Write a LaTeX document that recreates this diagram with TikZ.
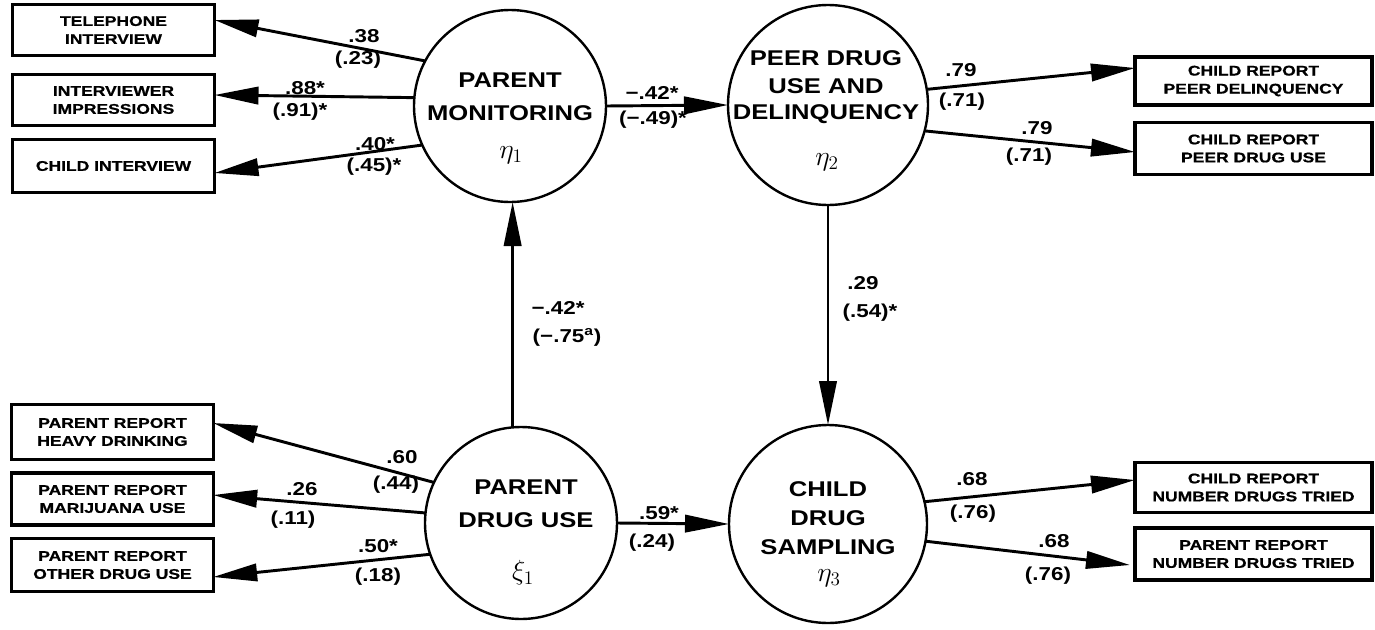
\documentclass[tikz,border=0pt]{standalone}
\usepackage{fontspec}
\setmainfont{Liberation Sans}
\newfontfamily\boxfont{Liberation Sans}[FakeStretch=1.25,FakeBold=0.8]
\newfontfamily\cfont{Liberation Sans}[FakeStretch=1.2]
\newfontfamily\lfont{Liberation Sans}[FakeStretch=1.2]
\usetikzlibrary{arrows.meta,calc}
\tikzset{
  every node/.style={inner sep=0pt, outer sep=0pt},
  mbox/.style={draw, line width=2.4pt, rectangle, align=center,
    font=\boxfont\bfseries\fontsize{10.5}{13.5}\selectfont},
  latent/.style={draw, circle, line width=1.8pt},
  ctext/.style={font=\cfont\bfseries\fontsize{16}{19}\selectfont},
  coef/.style={font=\lfont\bfseries\fontsize{14}{16}\selectfont},
  greek/.style={font=\fontsize{20}{20}\selectfont},
  arr/.style={line width=2.2pt, -{Triangle[length=33pt,width=13pt]}},
}
\begin{document}
\begin{tikzpicture}[x=0.75pt,y=-0.75pt]
\useasboundingbox (0,0) rectangle (1375,629);
% latent variables
\node[latent, minimum size=144pt] (pm) at (510,106) {};
\node[latent, minimum size=150pt] (peer) at (828,105) {};
\node[latent, minimum size=144pt] (pdu) at (521,523) {};
\node[latent, minimum size=148.5pt] (cds) at (828,524) {};
% circle texts
\node[ctext] (pm1) at (510,80) {PARENT};
\node[ctext] (pm2) at (510,113) {MONITORING};
\node[greek] (pm3) at (511,155) {$\eta_1$};
\node[ctext] (pe1) at (826,58) {PEER DRUG};
\node[ctext] (pe2) at (826,86) {USE AND};
\node[ctext] (pe3) at (826,114) {DELINQUENCY};
\node[greek] (pe4) at (827,162) {$\eta_2$};
\node[ctext] (pd1) at (526,487) {PARENT};
\node[ctext] (pd2) at (526,520) {DRUG USE};
\node[greek] (pd3) at (523,573) {$\xi_1$};
\node[ctext] (cd1) at (828,489) {CHILD};
\node[ctext] (cd2) at (828,518) {DRUG};
\node[ctext] (cd3) at (828,547) {SAMPLING};
\node[greek] (cd4) at (829,578) {$\eta_3$};
% measurement boxes
\node[mbox, minimum width=151.5pt, minimum height=38pt] (tel) at (113.5,30) {TELEPHONE\\INTERVIEW};
\node[mbox, minimum width=151.5pt, minimum height=38pt] (imp) at (113.5,100) {INTERVIEWER\\IMPRESSIONS};
\node[mbox, minimum width=151.5pt, minimum height=40pt] (chi) at (113.5,166) {CHILD INTERVIEW};
\node[mbox, minimum width=151pt, minimum height=41pt] (hvy) at (112.5,432) {PARENT REPORT\\HEAVY DRINKING};
\node[mbox, minimum width=151pt, minimum height=39pt] (mar) at (112.5,499) {PARENT REPORT\\MARIJUANA USE};
\node[mbox, minimum width=151pt, minimum height=40pt] (oth) at (112.5,565) {PARENT REPORT\\OTHER DRUG USE};
\node[mbox, minimum width=177.75pt, minimum height=36pt] (pdel) at (1253.5,81) {CHILD REPORT\\PEER DELINQUENCY};
\node[mbox, minimum width=177.75pt, minimum height=39pt] (pdr) at (1253.5,148.5) {CHILD REPORT\\PEER DRUG USE};
\node[mbox, minimum width=177.75pt, minimum height=37pt] (cnum) at (1253.5,487.5) {CHILD REPORT\\NUMBER DRUGS TRIED};
\node[mbox, minimum width=177.75pt, minimum height=39pt] (pnum) at (1253.5,554) {PARENT REPORT\\NUMBER DRUGS TRIED};
% connectors
\draw[arr] (pm.152) -- ($(tel.east)+(0,-10)$);
\draw[arr] (pm.175) -- ($(imp.east)+(0,-5)$);
\draw[arr] (pm.204) -- ($(chi.east)+(0,7)$);
\draw[arr] (peer.9) -- ($(pdel.west)+(0,-13)$);
\draw[arr] (peer.-15) -- ($(pdr.west)+(0,3.5)$);
\draw[arr] (pdu.155) -- ($(hvy.east)+(0,-9)$);
\draw[arr] (pdu.174) -- ($(mar.east)+(0,-4)$);
\draw[arr] (pdu.199) -- ($(oth.east)+(0,12)$);
\draw[arr] (cds.13) -- ($(cnum.west)+(0,-7.5)$);
\draw[arr] (cds.-10) -- ($(pnum.west)+(-5,11)$);
\draw[arr] (pm.east) -- (peer.west);
\draw[arr] (pdu.east) -- (cds.west);
\draw[arr] (pdu.95) -- (pdu.95 |- pm.south);
\draw[arr] (peer.south) -- (peer.south |- cds.north);
% coefficients
\node[coef] (c1a) at (364,36) {.38};
\node[coef] (c1b) at (358,60) {(.23)};
\node[coef] (c2a) at (305,88) {.88*};
\node[coef] (c2b) at (300,112) {(.91)*};
\node[coef] (c3a) at (375,144) {.40*};
\node[coef] (c3b) at (374,167) {(.45)*};
\node[coef] (c4a) at (652,93) {−.42*};
\node[coef] (c4b) at (653,120) {(−.49)*};
\node[coef] (c5a) at (961,70) {.79};
\node[coef] (c5b) at (962,102) {(.71)};
\node[coef] (c6a) at (1037,128) {.79};
\node[coef] (c6b) at (1029,157) {(.71)};
\node[coef] (c7a) at (558,308) {−.42*};
\node[coef] (c7b) at (567,337) {(−.75\textsuperscript{a})};
\node[coef] (c8a) at (863,283) {.29};
\node[coef] (c8b) at (870,313) {(.54)*};
\node[coef] (c9a) at (402,457) {.60};
\node[coef] (c9b) at (396,485) {(.44)};
\node[coef] (c10a) at (302,489) {.26};
\node[coef] (c10b) at (293,520) {(.11)};
\node[coef] (c11a) at (378,546) {.50*};
\node[coef] (c11b) at (378,577) {(.18)};
\node[coef] (c12a) at (659,513) {.59*};
\node[coef] (c12b) at (652,543) {(.24)};
\node[coef] (c13a) at (972,479) {.68};
\node[coef] (c13b) at (973,514) {(.76)};
\node[coef] (c14a) at (1054,541) {.68};
\node[coef] (c14b) at (1048,576) {(.76)};
\end{tikzpicture}
\end{document}
